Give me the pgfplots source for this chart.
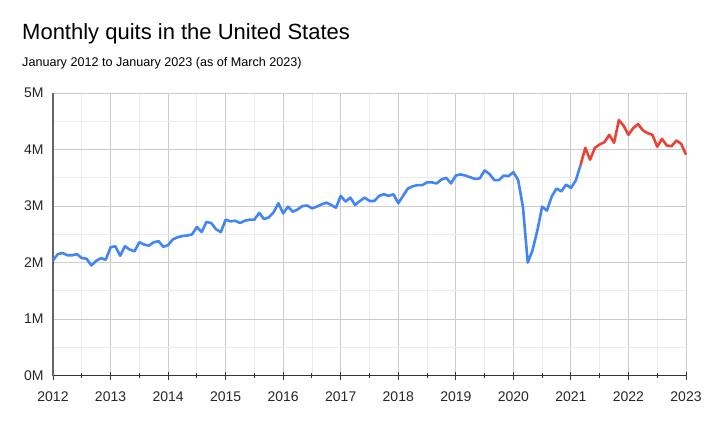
\documentclass[border=0pt]{standalone}
\usepackage{pgfplots}
\pgfplotsset{compat=1.18}
\usepackage{fontspec}
\setmainfont{Liberation Sans}
\definecolor{qblue}{HTML}{4285F4}
\definecolor{qred}{HTML}{EA4335}
\definecolor{gmaj}{HTML}{CCCCCC}
\definecolor{gmin}{HTML}{EBEBEB}
\begin{document}
\begin{tikzpicture}
\path[use as bounding box] (0,0) rectangle (707bp,426bp);
\node[anchor=base west,inner sep=0pt] at (22bp,386bp) {\fontsize{22bp}{26bp}\selectfont Monthly quits in the United States};
\node[anchor=base west,inner sep=0pt] at (22bp,359.5bp) {\fontsize{12.6bp}{15bp}\selectfont January 2012 to January 2023 (as of March 2023)};
\begin{axis}[
  at={(53bp,50.3bp)}, anchor=south west,
  scale only axis, width=633bp, height=282.7bp,
  xmin=0, xmax=132, ymin=0, ymax=5,
  xtick={0,12,...,132},
  xticklabels={2012,2013,2014,2015,2016,2017,2018,2019,2020,2021,2022,2023},
  minor xtick={6,18,...,126},
  ytick={0,1,2,3,4,5},
  yticklabels={0M,1M,2M,3M,4M,5M},
  minor ytick={0.5,1.5,2.5,3.5,4.5},
  grid=both,
  major grid style={draw=gmaj, line width=0.9bp},
  minor grid style={draw=gmin, line width=0.9bp},
  axis x line*=bottom, axis y line*=left,
  x axis line style={draw=black!80, line width=1bp, -},
  y axis line style={draw=black!60, line width=1.5bp, -},
  tick align=center,
  major tick length=8bp, minor tick length=5bp,
  x tick style={draw=black!80, line width=1bp},
  y tick style={draw=none},
  ticklabel style={font=\fontsize{14bp}{16bp}\selectfont, text=black!85},
  /pgf/number format/assume math mode=true,
  xticklabel style={yshift=-9bp},
  yticklabel style={xshift=-2bp},
  clip=false,
]
\addplot[qblue, line width=2.6bp, line join=round] coordinates {
(0,2.04)(1,2.15)(2,2.17)(3,2.13)(4,2.13)(5,2.15)(6,2.08)(7,2.07)(8,1.95)(9,2.03)(10,2.08)(11,2.05)
(12,2.27)(13,2.29)(14,2.12)(15,2.29)(16,2.23)(17,2.20)(18,2.36)(19,2.32)(20,2.30)(21,2.36)(22,2.38)(23,2.28)
(24,2.31)(25,2.41)(26,2.45)(27,2.47)(28,2.48)(29,2.50)(30,2.63)(31,2.54)(32,2.72)(33,2.70)(34,2.59)(35,2.54)
(36,2.76)(37,2.73)(38,2.74)(39,2.70)(40,2.74)(41,2.76)(42,2.76)(43,2.88)(44,2.77)(45,2.80)(46,2.89)(47,3.05)
(48,2.87)(49,2.99)(50,2.90)(51,2.94)(52,3.00)(53,3.01)(54,2.96)(55,2.99)(56,3.03)(57,3.06)(58,3.02)(59,2.97)
(60,3.18)(61,3.08)(62,3.15)(63,3.02)(64,3.09)(65,3.15)(66,3.09)(67,3.09)(68,3.18)(69,3.21)(70,3.18)(71,3.21)
(72,3.05)(73,3.18)(74,3.31)(75,3.35)(76,3.37)(77,3.37)(78,3.42)(79,3.42)(80,3.40)(81,3.47)(82,3.50)(83,3.40)
(84,3.54)(85,3.56)(86,3.54)(87,3.51)(88,3.48)(89,3.49)(90,3.63)(91,3.57)(92,3.46)(93,3.46)(94,3.54)(95,3.53)
(96,3.60)(97,3.46)(98,2.98)(99,2.00)(100,2.22)(101,2.57)(102,2.99)(103,2.92)(104,3.17)(105,3.31)(106,3.26)(107,3.38)
(108,3.32)(109,3.45)(110,3.72)
};
\addplot[qred, line width=2.6bp, line join=round] coordinates {
(110,3.72)(111,4.03)(112,3.82)(113,4.03)(114,4.09)(115,4.13)(116,4.26)(117,4.12)(118,4.52)(119,4.42)
(120,4.26)(121,4.38)(122,4.45)(123,4.34)(124,4.29)(125,4.26)(126,4.05)(127,4.19)(128,4.07)(129,4.06)(130,4.16)(131,4.10)
(132,3.91)
};
\end{axis}
\end{tikzpicture}
\end{document}
